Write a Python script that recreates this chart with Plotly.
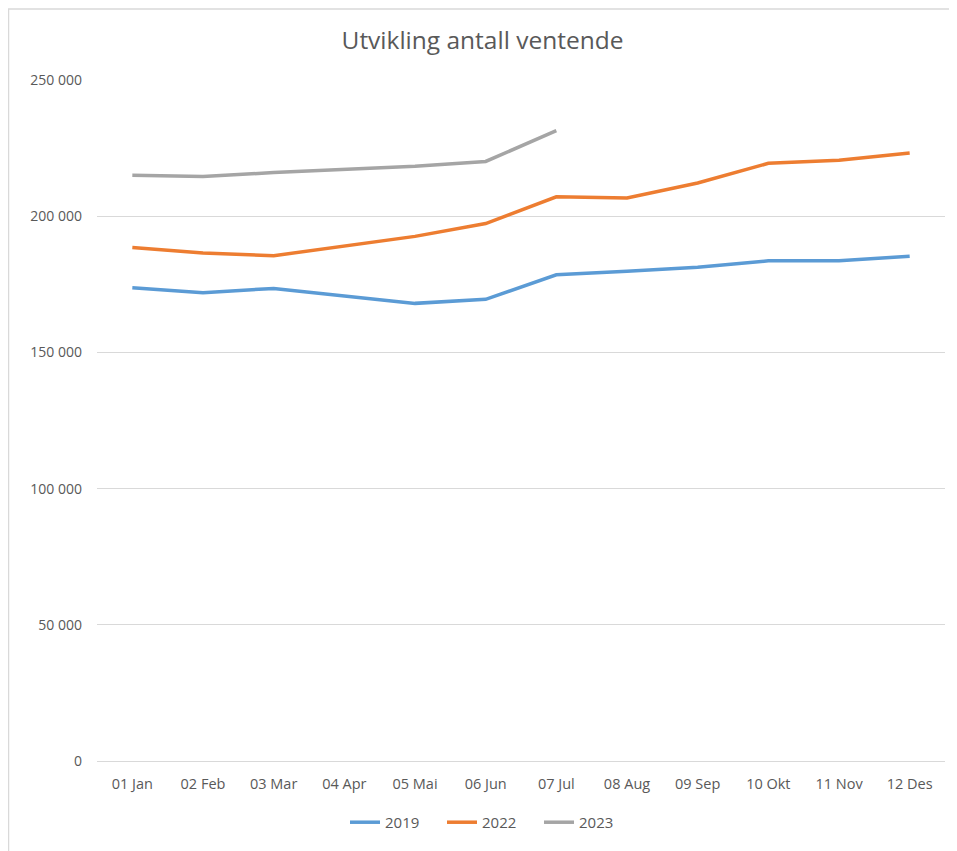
import plotly.graph_objects as go

months = ["01 Jan", "02 Feb", "03 Mar", "04 Apr", "05 Mai", "06 Jun",
          "07 Jul", "08 Aug", "09 Sep", "10 Okt", "11 Nov", "12 Des"]
v2019 = [173700, 171900, 173500, 170700, 168000, 169500,
         178500, 179800, 181300, 183600, 183600, 185300]
v2022 = [188500, 186500, 185500, 189000, 192600, 197300,
         207100, 206700, 212200, 219400, 220500, 223200]
v2023 = [215000, 214600, 216000, 217000, 218300, 220100, 231400]
y_ticks = [0, 50000, 100000, 150000, 200000, 250000]

# page body has 8px default margin -> figure sized/offset accordingly
W, H = 949, 843
L, R, T, B = 89, 12, 72, 84
PW, PH = W - L - R, H - T - B
font_family = "Open Sans, Liberation Sans, sans-serif"
fig = go.Figure()
for name, vals, col in [("2019", v2019, "#5B9BD5"),
                        ("2022", v2022, "#ED7D31"),
                        ("2023", v2023, "#A5A5A5")]:
    fig.add_trace(go.Scatter(x=months[:len(vals)], y=vals, name=name, mode="lines",
                             line=dict(color=col, width=3.5)))

fig.update_layout(
    width=W, height=H,
    paper_bgcolor="white", plot_bgcolor="white",
    margin=dict(l=L, r=R, t=T, b=B),
    separators=". ",
    title=dict(text="Utvikling antall ventende", x=0.5, xanchor="center",
               y=1 - 32 / H, yanchor="middle",
               font=dict(size=24.5, color="#595959", family=font_family)),
    font=dict(family=font_family, color="#595959", size=14),
    xaxis=dict(type="category", range=[-0.5, 11.5], showgrid=False,
               showline=True, linecolor="#D9D9D9", linewidth=1,
               ticks="", tickfont=dict(size=14.5, color="#595959"), ticklabelstandoff=10),
    yaxis=dict(range=[0, 250000], tickvals=y_ticks, tickformat=",d",
               showgrid=True, gridcolor="#D9D9D9", gridwidth=1, zeroline=False,
               showline=False, ticks="", tickfont=dict(size=14, color="#595959"),
               ticklabelstandoff=14),
    legend=dict(orientation="h", x=(337 - L) / PW, xanchor="left",
                y=-(821 - (H - B)) / PH, yanchor="middle",
                font=dict(size=15, color="#595959"),
                entrywidth=52, entrywidthmode="pixels",
                traceorder="normal"),
    showlegend=True,
)
fig.add_shape(type="rect", xref="paper", yref="paper",
              x0=(0.5 - L) / PW, x1=(W + 10 - L) / PW,
              y0=-(H + 10 - PH - T) / PH, y1=(T - 0.5) / PH + 1,
              line=dict(color="#D9D9D9", width=1.5), layer="below")
fig.write_html("out.html")
